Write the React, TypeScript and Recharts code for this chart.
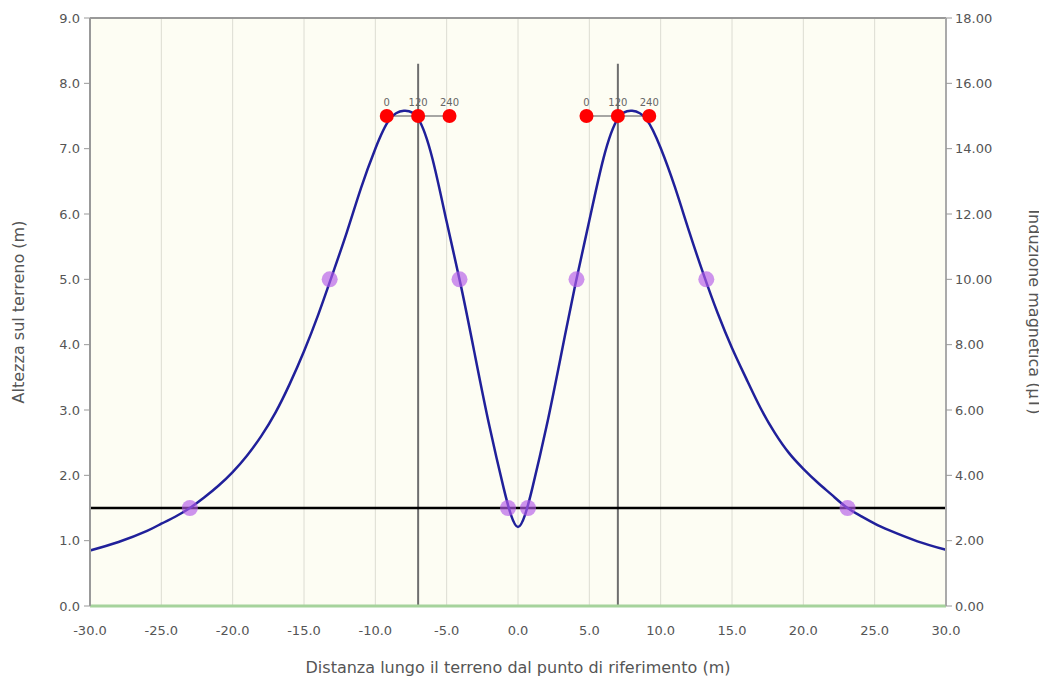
import { ComposedChart, Line, Scatter, XAxis, YAxis, CartesianGrid, ReferenceLine, LabelList } from 'recharts'

// distance along the ground (m) and magnetic induction (µT)
const curveX = [-30, -28, -26, -25, -24, -23, -22, -21, -20, -19, -18, -17, -16, -15, -14, -13, -12, -11, -10, -9, -8, -7, -6, -5, -4, -3, -2, -1, -0.5, 0,
  0.5, 1, 2, 3, 4, 5, 6, 7, 8, 9, 10, 11, 12, 13, 14, 15, 16, 17, 18, 19, 20, 21, 22, 23, 24, 25, 26, 28, 30]
const curveB = [1.7, 1.96, 2.3, 2.52, 2.74, 3.0, 3.32, 3.68, 4.1, 4.6, 5.2, 5.92, 6.8, 7.8, 8.92, 10.16, 11.44, 12.8, 14.0, 14.9, 15.16, 14.92, 13.7, 11.76, 9.8, 7.64, 5.5, 3.6, 2.8, 2.42,
  2.8, 3.6, 5.5, 7.64, 9.8, 11.8, 13.72, 14.92, 15.16, 14.9, 14.02, 12.82, 11.46, 10.16, 8.96, 7.9, 6.96, 6.06, 5.3, 4.68, 4.2, 3.78, 3.4, 3.03, 2.76, 2.52, 2.32, 1.98, 1.72]

const conductorX = [-9.2, -7, -4.8, 4.8, 7, 9.2]
const conductorH = 7.5
const phaseLabels = ['0', '120', '240', '0', '120', '240']

const isoX = [-23, -13.2, -4.1, -0.7, 0.7, 4.1, 13.2, 23.1]
const isoH = [1.5, 5.0, 5.0, 1.5, 1.5, 5.0, 5.0, 1.5]

const xTicks = [-30, -25, -20, -15, -10, -5, 0, 5, 10, 15, 20, 25, 30]
const leftTicks = [0, 1, 2, 3, 4, 5, 6, 7, 8, 9]
const rightTicks = [0, 2, 4, 6, 8, 10, 12, 14, 16, 18]

const towerX = [-7, 7]
const towerTop = 8.3
const refHeight = 1.5

const curveRows = curveX.map((x, i) => ({ x, b: curveB[i] }))
const conductorRows = conductorX.map((x, i) => ({ x, y: conductorH, label: phaseLabels[i] }))
const isoRows = isoX.map((x, i) => ({ x, y: isoH[i] }))

const font = '"DejaVu Sans", sans-serif'
const tickStyle = { fontSize: 13, fill: '#555', fontFamily: font }
const titleStyle = { fontSize: 16, fill: '#555', fontFamily: font }

export default function App() {
  return (
    <ComposedChart width={1039} height={671} data={curveRows} margin={{ top: 10, right: 0, bottom: 0, left: 0 }}>
      <CartesianGrid stroke="#dcdcd2" fill="#fdfdf3" />
      <XAxis
        dataKey="x"
        type="number"
        domain={[-30, 30]}
        ticks={xTicks}
        tickFormatter={v => v.toFixed(1)}
        tick={tickStyle}
        axisLine={{ stroke: '#a6d39c', strokeWidth: 3 }}
        tickLine={false}
        tickMargin={14}
        height={73}
        label={{ value: 'Distanza lungo il terreno dal punto di riferimento (m)', position: 'insideBottom', offset: 6, style: titleStyle }}
      />
      <YAxis
        yAxisId="left"
        domain={[0, 9]}
        ticks={leftTicks}
        tickFormatter={v => v.toFixed(1)}
        tick={tickStyle}
        axisLine={{ stroke: '#999', strokeWidth: 2 }}
        tickLine={{ stroke: '#999' }}
        tickSize={6}
        tickMargin={4}
        width={82}
        label={{ value: 'Altezza sul terreno (m)', angle: -90, position: 'insideLeft', offset: 10, style: { ...titleStyle, textAnchor: 'middle' } }}
      />
      <YAxis
        yAxisId="right"
        orientation="right"
        domain={[0, 18]}
        ticks={rightTicks}
        tickFormatter={v => v.toFixed(2)}
        tick={tickStyle}
        axisLine={{ stroke: '#aaa', strokeWidth: 2 }}
        tickLine={{ stroke: '#999' }}
        tickSize={6}
        tickMargin={3}
        width={101}
        label={{ value: 'Induzione magnetica (µT)', angle: 90, position: 'insideRight', offset: 12, style: { ...titleStyle, textAnchor: 'middle' } }}
      />
      <ReferenceLine yAxisId="left" y={9} stroke="#999" strokeWidth={2} />
      {towerX.map(tx => (
        <ReferenceLine key={tx} yAxisId="left" segment={[{ x: tx, y: 0 }, { x: tx, y: towerTop }]} stroke="#6e6e6e" strokeWidth={2} />
      ))}
      <ReferenceLine yAxisId="left" segment={[{ x: conductorX[0], y: conductorH }, { x: conductorX[2], y: conductorH }]} stroke="#888" strokeWidth={1.5} />
      <ReferenceLine yAxisId="left" segment={[{ x: conductorX[3], y: conductorH }, { x: conductorX[5], y: conductorH }]} stroke="#888" strokeWidth={1.5} />
      <ReferenceLine yAxisId="left" y={refHeight} stroke="#000" strokeWidth={2.5} />
      <Scatter
        yAxisId="left"
        data={isoRows}
        dataKey="y"
        isAnimationActive={false}
        shape={(p: any) => <circle cx={p.cx} cy={p.cy} r={8} fill="#b45be8" fillOpacity={0.65} />}
      />
      <Line
        yAxisId="right"
        dataKey="b"
        type="natural"
        stroke="#20209a"
        strokeWidth={2.5}
        dot={false}
        activeDot={false}
        isAnimationActive={false}
      />
      <Scatter
        yAxisId="left"
        data={conductorRows}
        dataKey="y"
        isAnimationActive={false}
        shape={(p: any) => <circle cx={p.cx} cy={p.cy} r={7} fill="#ff0000" />}
      >
        <LabelList dataKey="label" position="top" offset={5} style={{ fontSize: 10, fill: '#666', fontFamily: font }} />
      </Scatter>
    </ComposedChart>
  )
}
